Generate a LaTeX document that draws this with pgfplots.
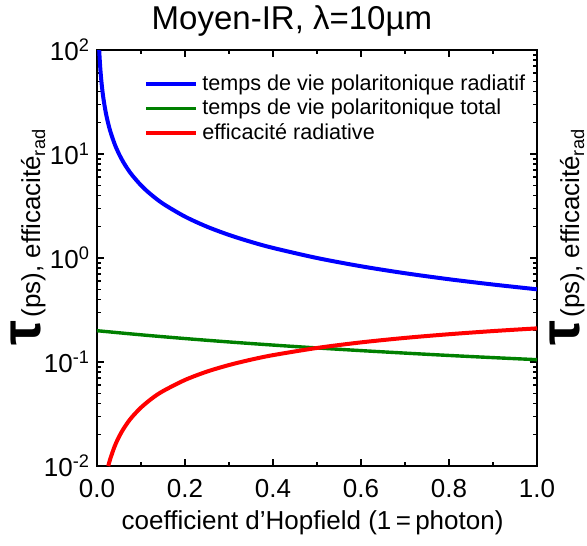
\documentclass[border=0pt]{standalone}
\usepackage{fontspec}
\setmainfont{Liberation Sans}
\usepackage{pgfplots}
\pgfplotsset{compat=1.18}

\definecolor{cblue}{RGB}{0,0,255}
\definecolor{cgreen}{RGB}{0,128,0}
\definecolor{cred}{RGB}{255,0,0}

% y label, used on both sides
\newcommand{\ylab}{{\fontsize{28}{28}\selectfont\bfseries τ}\,{\fontsize{13}{13}\selectfont(ps), efficacité\textsubscript{rad}}}

\begin{document}
\begin{tikzpicture}
  \begin{axis}[
    scale only axis, width=220pt, height=208pt,
    ymode=log, xmin=0, xmax=1, ymin=0.01, ymax=100,
    xtick={0,0.2,0.4,0.6,0.8,1},
    xticklabels={0.0,0.2,0.4,0.6,0.8,1.0},
    minor xtick={0.1,0.3,0.5,0.7,0.9},
    ytick={0.01,0.1,1,10,100},
    yticklabels={10\textsuperscript{-2},10\textsuperscript{-1},10\textsuperscript{0},10\textsuperscript{1},10\textsuperscript{2}},
    tick label style={font=\fontsize{13}{15}\selectfont},
    xticklabel style={yshift=-3pt},
    axis line style={line width=1pt},
    major tick length=3.5pt, minor tick length=2pt,
    every tick/.style={black, line width=0.8pt},
    clip mode=individual,
    legend style={draw=none, fill=none, at={(0.093,0.96)}, anchor=north west,
      font=\fontsize{10.8}{12}\selectfont, row sep=-1.2pt},
    legend cell align=left,
    legend image code/.code={\draw[#1] (0pt,0pt) -- (25pt,0pt);},
  ]

    % radiative polariton lifetime
    \addplot[cblue, line width=2pt, smooth] coordinates {
      (0.005,100) (0.006,83.3) (0.007,71.4) (0.008,62.5) (0.01,50)
      (0.0125,40) (0.015,33.3) (0.02,25) (0.025,20) (0.03,16.67)
      (0.04,12.5) (0.05,10) (0.06,8.33) (0.07,7.14) (0.08,6.25)
      (0.1,5) (0.12,4.17) (0.15,3.33) (0.2,2.5) (0.25,2.0)
      (0.3,1.667) (0.35,1.429) (0.4,1.25) (0.5,1.0) (0.6,0.833)
      (0.7,0.714) (0.8,0.625) (0.9,0.556) (1.0,0.5) };
    \addlegendentry{temps de vie polaritonique radiatif}

    % total polariton lifetime
    \addplot[cgreen, line width=1.7pt, smooth] coordinates {
      (0,0.2) (0.1,0.1826) (0.2,0.1681) (0.3,0.1559) (0.4,0.1455)
      (0.5,0.1365) (0.6,0.1287) (0.7,0.1218) (0.8,0.1156) (0.9,0.1102)
      (1.0,0.1053) };
    \addlegendentry{temps de vie polaritonique total}

    % radiative efficiency
    \addplot[cred, line width=2pt, smooth] coordinates {
      (0.0256,0.01) (0.03,0.01166) (0.04,0.01541) (0.05,0.01909)
      (0.06,0.0227) (0.07,0.02624) (0.08,0.02973) (0.1,0.0365)
      (0.125,0.0447) (0.15,0.0525) (0.2,0.0672) (0.25,0.0809)
      (0.3,0.0935) (0.35,0.1053) (0.4,0.1164) (0.5,0.1365)
      (0.6,0.1544) (0.7,0.1705) (0.8,0.1850) (0.9,0.1984) (1.0,0.2106) };
    \addlegendentry{efficacité radiative}

    \node[font=\fontsize{16.5}{18}\selectfont] at (axis description cs:0.443,1.0697) {Moyen-IR, λ=10µm};
    \node[font=\fontsize{13}{15}\selectfont] at (axis description cs:0.49,-0.137) {coefficient d'Hopfield (1\,=\,photon)};
    \node[rotate=90, anchor=base] at (axis description cs:-0.129,0.55) {\ylab};
    \node[rotate=90, anchor=base] at (axis description cs:1.096,0.55) {\ylab};
  \end{axis}
  \pgfresetboundingbox
  \useasboundingbox (-48.5pt,-39.5pt) rectangle (245pt,233pt);
\end{tikzpicture}
\end{document}
